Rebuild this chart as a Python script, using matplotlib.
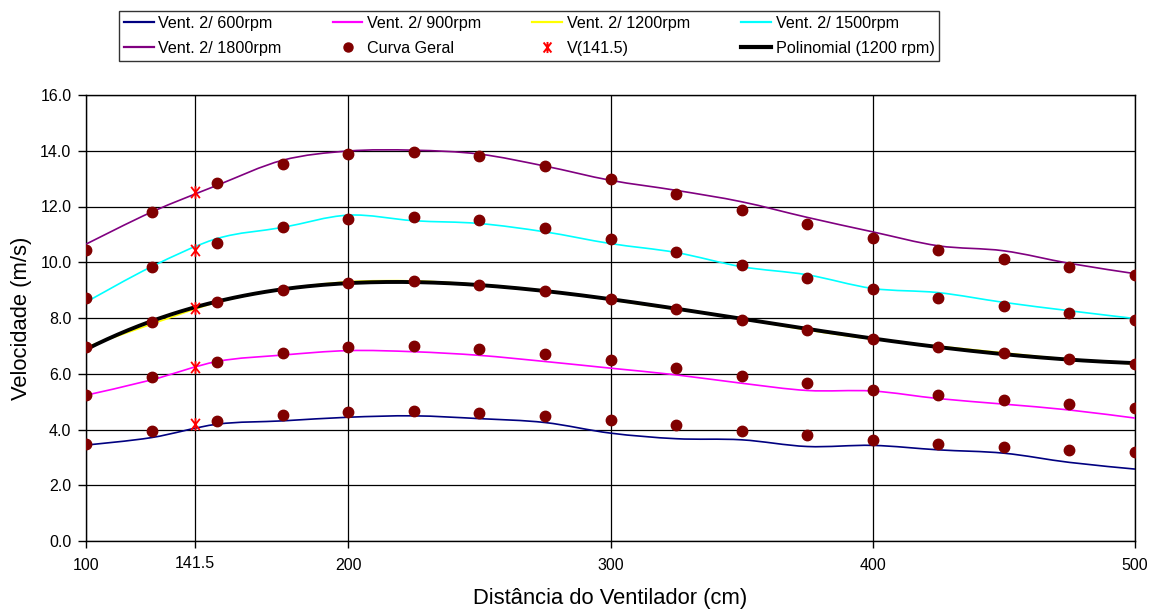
import matplotlib
matplotlib.use("Agg")
import matplotlib.pyplot as plt
from matplotlib.path import Path
from matplotlib.patches import PathPatch
from matplotlib.lines import Line2D
import numpy as np

plt.rcParams['font.family'] = ['Liberation Sans', 'DejaVu Sans']

# Distances (cm)
dist = [100, 125, 150, 175, 200, 225, 250, 275, 300, 325, 350, 375, 400, 425, 450, 475, 500]

# Measured velocity curves (m/s) per fan speed
v600 = [3.44, 3.71, 4.19, 4.31, 4.44, 4.49, 4.39, 4.25, 3.87, 3.67, 3.63, 3.39, 3.43, 3.27, 3.15, 2.82, 2.58]
v900 = [5.23, 5.78, 6.44, 6.67, 6.83, 6.79, 6.66, 6.44, 6.20, 5.96, 5.66, 5.40, 5.38, 5.11, 4.91, 4.70, 4.41]
v1200 = [6.95, 7.78, 8.56, 9.03, 9.30, 9.33, 9.20, 8.98, 8.65, 8.31, 7.97, 7.57, 7.24, 6.99, 6.75, 6.52, 6.35]
v1500 = [8.57, 9.84, 10.85, 11.25, 11.69, 11.49, 11.39, 11.09, 10.67, 10.35, 9.84, 9.55, 9.06, 8.91, 8.56, 8.26, 7.98]
v1800 = [10.65, 11.80, 12.76, 13.66, 13.99, 14.02, 13.88, 13.45, 12.94, 12.58, 12.17, 11.61, 11.09, 10.59, 10.41, 9.96, 9.59]

# "Curva Geral" points per fan speed
g600 = [3.47, 3.94, 4.29, 4.51, 4.63, 4.66, 4.60, 4.49, 4.33, 4.16, 3.96, 3.79, 3.63, 3.49, 3.37, 3.27, 3.18]
g900 = [5.23, 5.90, 6.41, 6.76, 6.95, 6.99, 6.90, 6.72, 6.50, 6.22, 5.93, 5.67, 5.43, 5.23, 5.05, 4.91, 4.76]
g1200 = [6.97, 7.87, 8.56, 9.01, 9.27, 9.33, 9.20, 8.98, 8.67, 8.31, 7.93, 7.57, 7.24, 6.97, 6.75, 6.54, 6.35]
g1500 = [8.70, 9.84, 10.70, 11.27, 11.56, 11.63, 11.50, 11.22, 10.83, 10.36, 9.90, 9.44, 9.05, 8.72, 8.43, 8.19, 7.94]
g1800 = [10.44, 11.81, 12.84, 13.53, 13.89, 13.96, 13.80, 13.46, 12.99, 12.45, 11.88, 11.36, 10.87, 10.45, 10.11, 9.83, 9.53]

# Velocities at 141.5 cm
x_ref = 141.5
v_ref = [4.19, 6.26, 8.35, 10.44, 12.51]

series_labels = ["Vent. 2/ 600rpm", "Vent. 2/ 900rpm", "Vent. 2/ 1200rpm",
                 "Vent. 2/ 1500rpm", "Vent. 2/ 1800rpm"]
series_colors = ["#000080", "#FF00FF", "#FFFF00", "#00FFFF", "#800080"]


def smooth_path(xs, ys):
    """Catmull-Rom style Bezier path through the points (smoothed line)."""
    pts = np.column_stack([xs, ys]).astype(float)
    n = len(pts)
    verts = [pts[0]]
    codes = [Path.MOVETO]
    for i in range(n - 1):
        p0 = pts[i - 1] if i > 0 else pts[i]
        p1 = pts[i]
        p2 = pts[i + 1]
        p3 = pts[i + 2] if i + 2 < n else pts[i + 1]
        c1 = p1 + (p2 - p0) / 6.0
        c2 = p2 - (p3 - p1) / 6.0
        verts += [c1, c2, p2]
        codes += [Path.CURVE4] * 3
    return Path(verts, codes)


fig = plt.figure(figsize=(11.56, 6.10), dpi=100)
ax = fig.add_axes([86 / 1156, 1 - 541 / 610, (1135 - 86) / 1156, (541 - 95) / 610])

curves = [v600, v900, v1200, v1500, v1800]
points = [g600, g900, g1200, g1500, g1800]

for ys, col in zip(curves, series_colors):
    ax.add_patch(PathPatch(smooth_path(dist, ys), fill=False, edgecolor=col,
                           lw=1.2, zorder=3))

# Polynomial trend line of the 1200 rpm series
coef = np.polyfit(dist, v1200, 4)
xfit = np.linspace(dist[0], dist[-1], 200)
ax.plot(xfit, np.polyval(coef, xfit), color="black", lw=2.8, zorder=4)

for ys in points:
    ax.plot(dist, ys, linestyle="none", marker="o", markersize=7.5,
            color="#800000", zorder=5)

star = Path([(0, -1), (0, 1), (-0.7, -0.9), (0.7, 0.9), (-0.7, 0.9), (0.7, -0.9)],
            [Path.MOVETO, Path.LINETO, Path.MOVETO, Path.LINETO, Path.MOVETO, Path.LINETO])
ax.plot([x_ref] * len(v_ref), v_ref, linestyle="none", marker=star, markersize=9,
        markeredgecolor="#FF0000", markerfacecolor="none", markeredgewidth=1.3, zorder=6)

ax.set_xlim(100, 500)
ax.set_ylim(0, 16)
ax.set_xticks([100, 200, 300, 400, 500])
ax.set_xticks([x_ref], minor=True)
ax.set_xticklabels(["100", "200", "300", "400", "500"])
ax.set_xticklabels(["141.5"], minor=True)
ax.set_yticks(np.arange(0, 16.1, 2))
ax.set_yticklabels([f"{v:.1f}" for v in np.arange(0, 16.1, 2)])
ax.tick_params(axis="both", which="both", direction="out", length=5, width=1,
               labelsize=11.5, colors="black")
ax.tick_params(axis="y", length=6, pad=4.5)
ax.tick_params(axis="x", which="major", pad=7)
ax.tick_params(axis="x", which="minor", pad=5.5)

ax.grid(True, which="both", color="black", lw=0.9)
ax.set_axisbelow(True)
for sp in ax.spines.values():
    sp.set_color("black")
    sp.set_linewidth(1)

ax.set_xlabel("Distância do Ventilador (cm)", fontsize=15.8, labelpad=11)
ax.set_ylabel("Velocidade (m/s)", fontsize=15.8, labelpad=6)

handles = [Line2D([], [], color=c, lw=1.6) for c in series_colors]
handles += [
    Line2D([], [], linestyle="none", marker="o", markersize=6.5, color="#800000"),
    Line2D([], [], linestyle="none", marker=star, markersize=8, markeredgecolor="#FF0000",
           markerfacecolor="none", markeredgewidth=1.4),
    Line2D([], [], color="black", lw=3),
]
labels = series_labels + ["Curva Geral", "V(141.5)", "Polinomial (1200 rpm)"]

# Row-wise order: fill column by column for a 4-column, 2-row legend
order = [0, 4, 1, 5, 2, 6, 3, 7]
leg = fig.legend([handles[i] for i in order], [labels[i] for i in order],
                 ncol=4, loc="upper left", bbox_to_anchor=(119 / 1156, 1 - 11 / 610),
                 frameon=True, fancybox=False, shadow=False, fontsize=11.6,
                 handlelength=1.85, handletextpad=0.3, columnspacing=3.15,
                 labelspacing=0.62, borderpad=0.3, borderaxespad=0)
leg.get_frame().set_edgecolor("black")
leg.get_frame().set_linewidth(1)

fig.savefig("out.png", dpi=100)
